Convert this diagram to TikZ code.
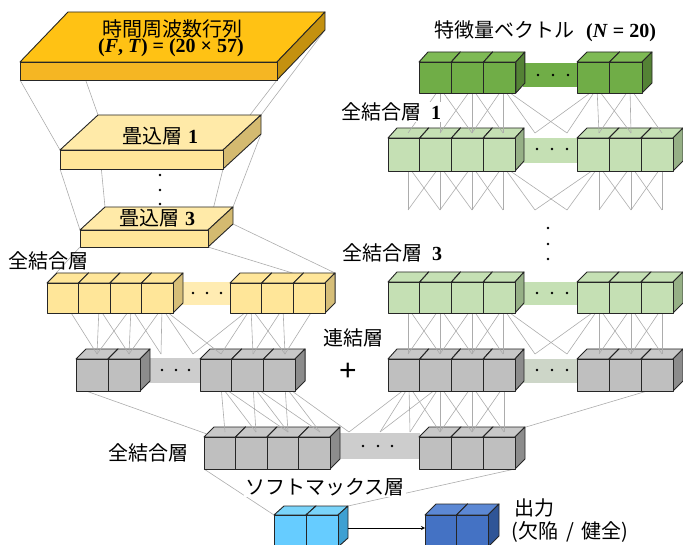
\documentclass[tikz,border=0pt]{standalone}
\usepackage{fontspec}
\setmainfont{Liberation Serif}
\newfontfamily\jp{Noto Sans CJK JP}
\newfontfamily\lser{Liberation Serif}
\definecolor{topF}{RGB}{245,182,35}
\definecolor{topT}{RGB}{255,194,20}
\definecolor{topS}{RGB}{196,145,15}
\definecolor{cvF}{RGB}{255,230,153}
\definecolor{cvT}{RGB}{255,234,168}
\definecolor{cvS}{RGB}{212,186,112}
\definecolor{ylF}{RGB}{255,230,153}
\definecolor{ylS}{RGB}{214,190,120}
\definecolor{ylB}{RGB}{255,236,178}
\definecolor{dgF}{RGB}{112,173,71}
\definecolor{dgT}{RGB}{126,186,84}
\definecolor{dgS}{RGB}{84,130,53}
\definecolor{lgF}{RGB}{197,224,180}
\definecolor{lgS}{RGB}{150,176,134}
\definecolor{grF}{RGB}{191,191,191}
\definecolor{grT}{RGB}{200,200,200}
\definecolor{grS}{RGB}{140,140,140}
\definecolor{grB}{RGB}{205,205,205}
\definecolor{grgB}{RGB}{205,214,200}
\definecolor{smF}{RGB}{102,204,255}
\definecolor{smT}{RGB}{122,212,250}
\definecolor{smS}{RGB}{62,160,210}
\definecolor{otF}{RGB}{68,114,196}
\definecolor{otT}{RGB}{92,136,212}
\definecolor{otS}{RGB}{47,85,151}
\definecolor{connC}{RGB}{172,172,172}
\definecolor{edgeC}{RGB}{38,38,38}
\newcommand{\setcols}[3]{\def\cF{#1}\def\cT{#2}\def\cS{#3}}
\newcommand{\qcube}[6]{%
  \pgfmathsetmacro\qxr{#1+#3}%
  \filldraw[cubeline,fill=\cT] (#1,#2) -- ++(#5,-#6) -- ++(#3,0) -- ++(-#5,#6) -- cycle;
  \filldraw[cubeline,fill=\cS] (\qxr,#2) -- ++(#5,-#6) -- ++(0,#4) -- ++(-#5,#6) -- cycle;
  \filldraw[cubeline,fill=\cF] (#1,#2) rectangle ++(#3,#4);}
\newcommand{\cuberow}[7]{\foreach \i in {1,...,#3}{\pgfmathsetmacro\qcx{#1+(\i-1)*#4}\qcube{\qcx}{#2}{#4}{#5}{#6}{#7}}}
\newcommand{\mkpts}[3]{\foreach \k/\x in {#2}{\coordinate (#1\k) at (\x,#3);}}
\newcommand{\links}[4]{\foreach \k in {#2}{\foreach \j in {#4}{%
  \pgfmathtruncatemacro\dd{abs(\k-\j)}%
  \ifnum\dd<2 \draw[conn] (#1\k) -- (#3\j);\fi}}}
\newcommand{\threedots}[4]{\foreach \xx in {#1,#2,#3}{\fill (\xx,#4) circle (1.4);}}
\begin{document}
\begin{tikzpicture}[x=1pt,y=-1pt,
  cubeline/.style={draw=edgeC,line width=0.9pt,line join=round},
  conn/.style={draw=connC,line width=0.6pt},
  jlab/.style={font=\jp\fontsize{20}{22}\selectfont,inner sep=1pt},
  wlab/.style={jlab,fill=white}]
\useasboundingbox (0,0) rectangle (683,545);
% ---------- output and softmax ----------
\setcols{otF}{otT}{otS}
\cuberow{425}{515}{2}{31.5}{32}{11}{11}
\setcols{smF}{smT}{smS}
\cuberow{274}{515}{2}{32}{32}{10}{9}
\coordinate (smR) at (348,528);
\coordinate (otL) at (425,528);
\draw[-stealth,line width=0.8pt] (smR) -- (otL);
% ---------- FC -> softmax lines ----------
\coordinate (fcFBL) at (204,469);
\coordinate (fcFBR) at (515,469);
\coordinate (smFTL) at (274,515);
\coordinate (smBTR) at (348,506);
\draw[conn] (fcFBL) -- (smFTL);
\draw[conn] (fcFBR) -- (smBTR);
\node[wlab] (smlab) at (325,487) {ソフトマックス層};
% ---------- bottom FC row ----------
\fill[grB] (338,433) rectangle (420,459);
\threedots{363}{378}{392}{446}
\setcols{grF}{grT}{grS}
\cuberow{204}{437}{4}{31.5}{32}{10}{10}
\cuberow{419}{437}{3}{32}{32}{10}{10}
\node[jlab] (fclab) at (148,453) {全結合層};
% ---------- concat -> FC lines ----------
\mkpts{fa}{0/221,1/253,2/285}{386}
\mkpts{fb}{0/409,1/440,2/472,3/504}{386}
\mkpts{fc}{0/225,1/256,2/288,3/320,4/349,5/380,6/410,7/440,8/472,9/504}{432}
\foreach \m in {0,1,2}{\foreach \s in {0,1,2}{\pgfmathtruncatemacro\n{\m+\s}\draw[conn] (fa\m) -- (fc\n);}}
\draw[conn] (fb0) -- (fc4);
\draw[conn] (fb0) -- (fc5);
\draw[conn] (fb1) -- (fc5);
\mkpts{fd}{0/410,1/440,2/472,3/504}{432}
\links{fb}{0,1,2,3}{fd}{0,1,2,3}
\coordinate (glFBL) at (86,391);
\coordinate (fcFTL) at (207,434);
\coordinate (grBBR) at (664,386);
\coordinate (fcBTR) at (526,427);
\draw[conn] (glFBL) -- (fcFTL);
\draw[conn] (grBBR) -- (fcBTR);
% ---------- gray rows ----------
\fill[grB] (148,358) rectangle (202,383);
\threedots{162}{176}{189}{370}
\fill[grgB] (521,359) rectangle (579,383);
\threedots{537}{552}{567}{370}
\setcols{grF}{grT}{grS}
\cuberow{76}{359}{2}{32}{32}{10}{10}
\cuberow{200}{359}{3}{31.7}{32}{10}{10}
\cuberow{388}{359}{4}{31.75}{32}{9}{10}
\cuberow{577}{359}{3}{32}{32}{10}{10}
\node[jlab] (cclab) at (353,338) {連結層};
\node[font=\fontspec{Liberation Sans}\fontsize{30}{30}\selectfont,inner sep=0pt] (plus) at (348,372) {+};
% ---------- yellow -> gray lines ----------
\mkpts{ya}{0/68,1/99,2/131,3/162,6/251,7/283,8/314}{308}
\mkpts{yb}{1/97,2/129,3/161,4/193,5/221,6/253,7/285}{354}
\links{ya}{0,1,2,3,6,7,8}{yb}{1,2,3,4,5,6,7}
\draw[conn] (ya3) -- (yb5);
\draw[conn] (ya6) -- (yb4);
% ---------- green3 -> gray lines ----------
\mkpts{ga}{0/408,1/440,2/472,3/503,6/599,7/631,8/662}{308}
\mkpts{gb}{0/408,1/440,2/472,3/503,4/535,5/567,6/599,7/631,8/662}{354}
\links{ga}{0,1,2,3,6,7,8}{gb}{0,1,2,3,4,5,6,7,8}
\draw[conn] (ga3) -- (gb5);
\draw[conn] (ga6) -- (gb4);
% ---------- conv3 -> yellow lines ----------
\coordinate (c3FBL) at (80,247);
\coordinate (c3BBR) at (233,224);
\coordinate (c3FBR) at (208,247);
\coordinate (ylFTL) at (47,283);
\coordinate (ylBTR) at (335,273);
\coordinate (ylFTR) at (325,283);
\draw[conn] (c3FBL) -- (ylFTL);
\draw[conn] (c3BBR) -- (ylBTR);
\draw[conn] (c3FBR) -- (ylFTR);
% ---------- yellow row ----------
\fill[ylB] (181,282) rectangle (232,305);
\threedots{193}{207}{221}{293}
\setcols{ylF}{ylF}{ylS}
\cuberow{47}{283}{4}{31.5}{30}{10}{10}
\cuberow{230}{283}{3}{31.7}{30}{10}{10}
\node[jlab] (yllab) at (49,261) {全結合層};
% ---------- light green 3 ----------
\fill[lgF] (521,282) rectangle (579,305);
\threedots{537}{552}{567}{293}
\setcols{lgF}{lgF}{lgS}
\cuberow{388}{282}{4}{31.75}{31}{9}{10}
\cuberow{577}{282}{3}{32}{31}{10}{10}
\node[wlab] (g3lab) at (392,253) {全結合層\hspace{0.5em}{\lser\bfseries 3}};
\foreach \yy in {228,244,259}{\fill (548,\yy) circle (1.4);}
% ---------- light green 1 -> fade ----------
\mkpts{ha}{0/408,1/440,2/472,3/503,6/599,7/631,8/662}{166}
\mkpts{hb}{0/408,1/440,2/472,3/503,4/535,5/567,6/599,7/631,8/662}{210}
\links{ha}{0,1,2,3,6,7,8}{hb}{0,1,2,3,4,5,6,7,8}
\draw[conn] (ha3) -- (hb5);
\draw[conn] (ha6) -- (hb4);
% ---------- light green 1 ----------
\fill[lgF] (521,138) rectangle (579,163);
\threedots{537}{552}{567}{149}
\cuberow{388}{138}{4}{31.75}{33}{9}{10}
\cuberow{577}{138}{3}{32}{33}{10}{10}
% ---------- dark green -> light green 1 ----------
\mkpts{da}{1/440,2/472,3/503,6/597,7/630}{88}
\mkpts{db}{0/408,1/440,2/472,3/503,4/535,5/567,6/599,7/631,8/662}{133}
\links{da}{1,2,3,6,7}{db}{0,1,2,3,4,5,6,7,8}
\draw[conn] (da3) -- (db5);
\draw[conn] (da6) -- (db4);
\node[wlab] (g1lab) at (391,112) {全結合層\hspace{0.5em}{\lser\bfseries 1}};
% ---------- dark green ----------
\fill[dgF] (523,63) rectangle (579,87);
\threedots{538}{553}{568}{75}
\setcols{dgF}{dgT}{dgS}
\cuberow{419}{62}{3}{32.3}{31}{9}{10}
\cuberow{577}{62}{2}{32.5}{31}{10}{10}
\node[jlab,anchor=west] (fvlab) at (433,31) {特徴量ベクトル\hspace{0.6em}{\lser\bfseries (\textit{N} = 20)}};
% ---------- conv1 -> conv3 ----------
\coordinate (c1FBL) at (60,169);
\coordinate (c1BBL) at (98,134);
\coordinate (c1BBR) at (261,134);
\coordinate (c1FBR) at (223,169);
\coordinate (c3FTL) at (80,230);
\coordinate (c3BTL) at (105,207);
\coordinate (c3BTR) at (233,207);
\coordinate (c3FTR) at (208,230);
\draw[conn] (c1FBL) -- (c3FTL);
\draw[conn] (c1BBL) -- (c3BTL);
\draw[conn] (c1BBR) -- (c3BTR);
\draw[conn] (c1FBR) -- (c3FTR);
% ---------- conv3 ----------
\setcols{cvF}{cvT}{cvS}
\qcube{80}{230}{128}{17}{25}{23}
\node[font=\fontsize{20}{22}\selectfont,inner sep=0pt] (c3lab) at (157,218) {{\jp 畳込層}\hspace{0.3em}\textbf{3}};
\foreach \yy in {175,190,204}{\fill (160,\yy) circle (1.4);}
% ---------- top -> conv1 ----------
\coordinate (tFBL) at (20,80);
\coordinate (tBBL) at (68,30);
\coordinate (tBBR) at (325,30);
\coordinate (tFBR) at (277,80);
\coordinate (c1FTL) at (60,150);
\coordinate (c1BTL) at (98,115);
\coordinate (c1BTR) at (261,115);
\coordinate (c1FTR) at (223,150);
\draw[conn] (tFBL) -- (c1FTL);
\draw[conn] (tBBL) -- (c1BTL);
\draw[conn] (tBBR) -- (c1BTR);
\draw[conn] (tFBR) -- (c1FTR);
% ---------- conv1 ----------
\qcube{60}{150}{163}{19}{38}{35}
\node[font=\fontsize{20}{22}\selectfont,inner sep=0pt] (c1lab) at (160,136) {{\jp 畳込層}\hspace{0.3em}\textbf{1}};
% ---------- top slab ----------
\setcols{topF}{topT}{topS}
\qcube{20}{62}{257}{18}{48}{50}
\node[jlab,inner sep=0pt] (tl1) at (172,29) {時間周波数行列};
\node[font=\bfseries\fontsize{20}{22}\selectfont,inner sep=0pt] (tl2) at (171,48) {(\textit{F}, \textit{T}) = (20 × 57)};
% ---------- labels ----------
\node[jlab] (outlab1) at (534,508) {出力};
\node[jlab] (outlab2) at (570,532) {(欠陥\hspace{0.4em}/\hspace{0.4em}健全)};
\end{tikzpicture}
\end{document}
